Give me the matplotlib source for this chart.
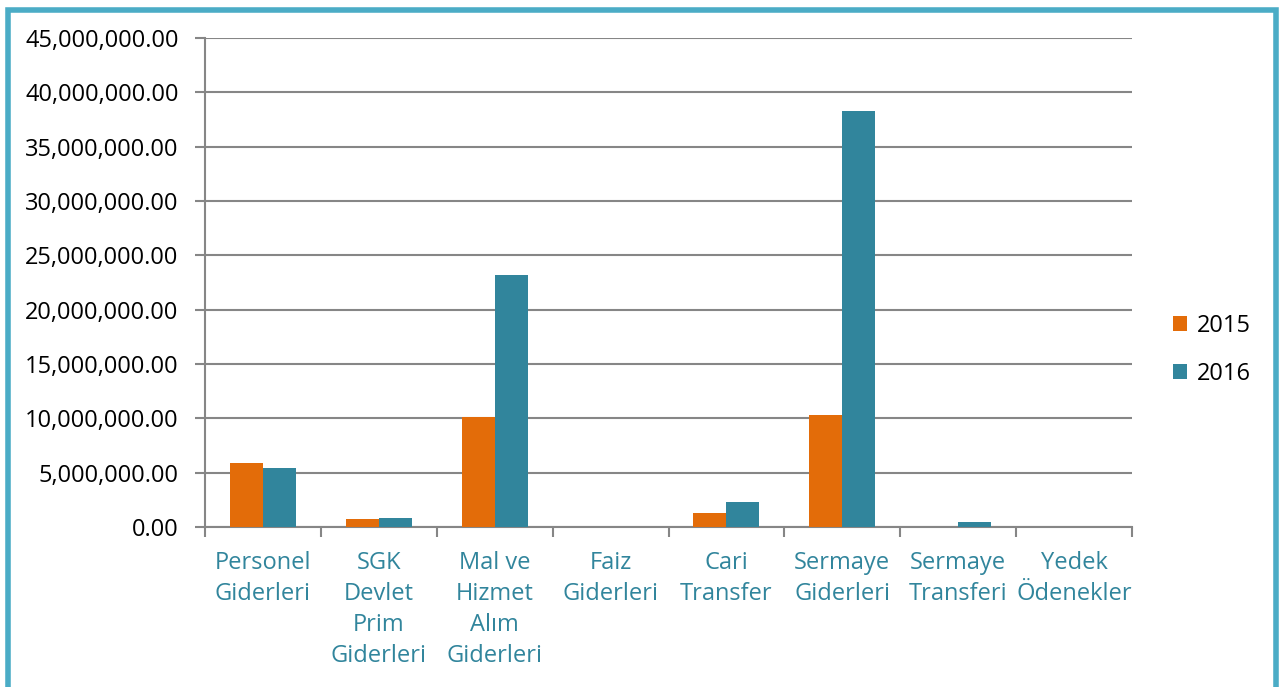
import matplotlib.pyplot as plt
import numpy as np
from matplotlib.patches import Rectangle
from matplotlib.ticker import FuncFormatter, FixedLocator

# Data
categories = ['Personel\nGiderleri', 'SGK\nDevlet\nPrim\nGiderleri', 'Mal ve\nHizmet\nAlım\nGiderleri',
              'Faiz\nGiderleri', 'Cari\nTransfer', 'Sermaye\nGiderleri', 'Sermaye\nTransferi', 'Yedek\nÖdenekler']
values_2015 = [5860000, 740000, 10150000, 0, 1320000, 10300000, 0, 0]
values_2016 = [5400000, 860000, 23200000, 0, 2300000, 38300000, 430000, 0]
series_names = ['2015', '2016']
colors = ['#E36C09', '#31859C']

plt.rcParams['font.family'] = ['Open Sans', 'DejaVu Sans']

fig = plt.figure(figsize=(12.87, 6.87), dpi=100)
ax = fig.add_axes([205 / 1287, 1 - 527 / 687, 927 / 1287, 489 / 687])

x = np.arange(len(categories))
w = 0.285
ax.bar(x - w / 2, values_2015, w, color=colors[0], label=series_names[0], zorder=3)
ax.bar(x + w / 2, values_2016, w, color=colors[1], label=series_names[1], zorder=3)

ax.set_xlim(-0.5, len(categories) - 0.5)
ax.set_ylim(0, 45000000)
ax.set_yticks(np.arange(0, 45000001, 5000000))
ax.yaxis.set_major_formatter(FuncFormatter(lambda v, p: f'{v:,.2f}'))
ax.grid(axis='y', color='#868686', linewidth=1.5, zorder=0)

ax.set_xticks(x)
ax.set_xticklabels(categories, color='#31859C', fontsize=17, linespacing=1.4)
ax.xaxis.set_minor_locator(FixedLocator(np.arange(-0.5, len(categories), 1)))
ax.tick_params(axis='x', which='major', length=0, pad=17)
ax.tick_params(axis='x', which='minor', length=7, width=1.5, color='#868686')
ax.tick_params(axis='y', length=7, width=1.5, color='#868686', labelsize=17, pad=12)

for s in ['top', 'right']:
    ax.spines[s].set_visible(False)
for s in ['left', 'bottom']:
    ax.spines[s].set_color('#868686')
    ax.spines[s].set_linewidth(1.5)

leg = fig.legend(loc='center left', bbox_to_anchor=(1152 / 1287, 1 - 350 / 687), frameon=False,
                 fontsize=17, handlelength=0.6, handleheight=0.6, labelspacing=1.0, handletextpad=0.4)

# Outer border
fig.patches.append(Rectangle((8 / 1287, -0.05), 1268 / 1287, 1.05 - 10 / 687, transform=fig.transFigure,
                             fill=False, edgecolor='#4BACC6', linewidth=4, zorder=10))

fig.savefig('out.png', dpi=100)
